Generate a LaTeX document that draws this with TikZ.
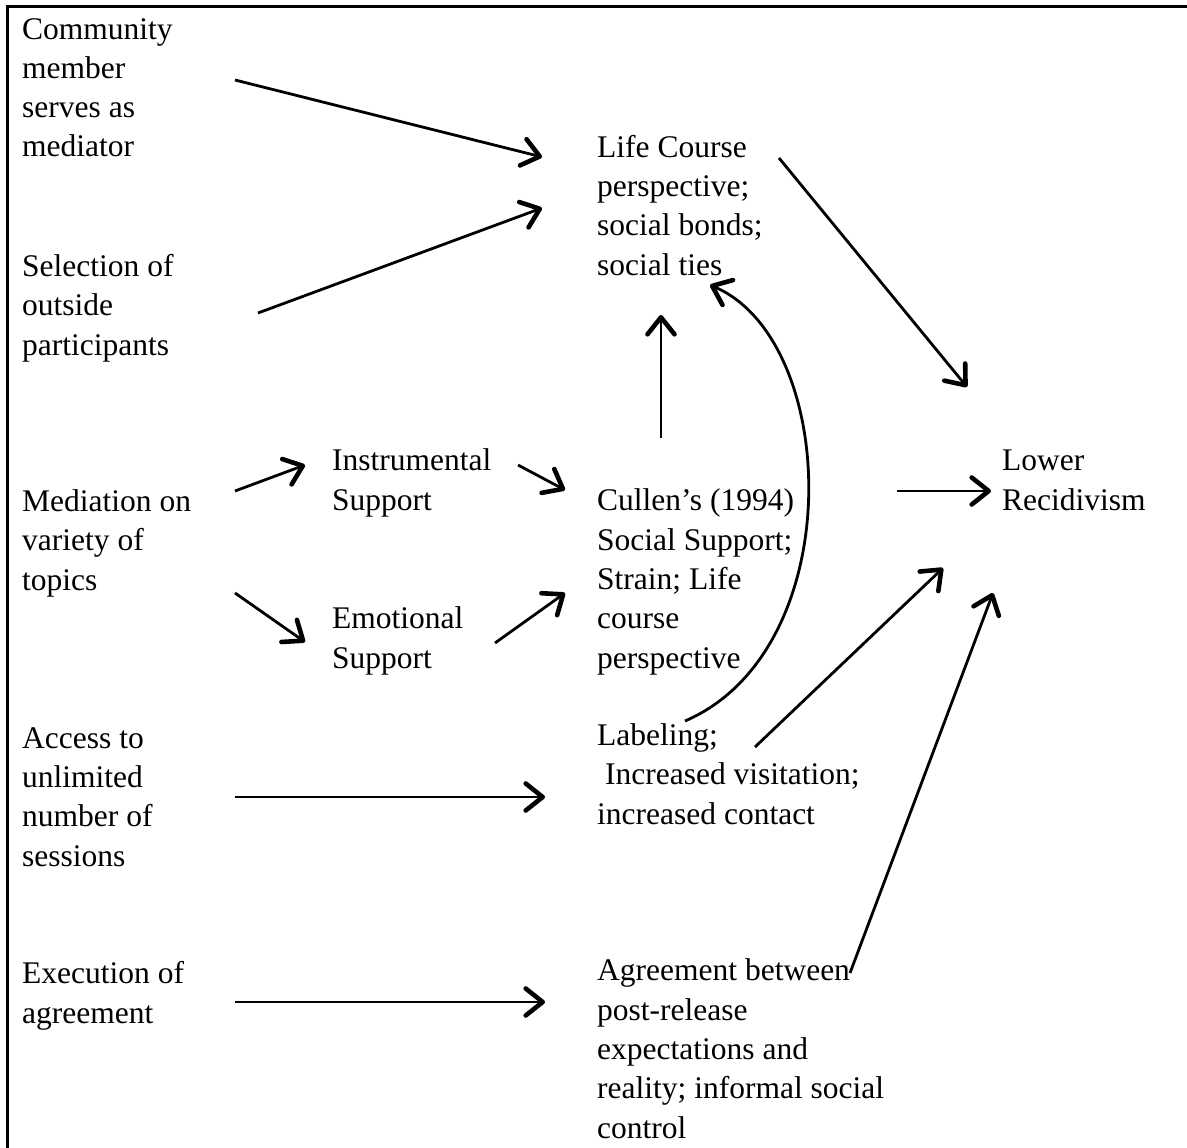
\documentclass[tikz,border=0pt]{standalone}
\usepackage{fontspec}
\setmainfont{Liberation Serif}
\usetikzlibrary{arrows.meta}
\begin{document}
\begin{tikzpicture}[x=1pt,y=-1pt,
  txt/.style={anchor=base west, align=left, inner sep=0pt, font=\fontsize{31.5}{39.3}\selectfont},
  conn/.style={line width=2.8pt, -{Straight Barb[length=17pt,width=27pt,line width=4.6pt,round]}},
  frame/.style={line width=3pt}]
\useasboundingbox (0,0) rectangle (1187,1148);
% frame (top and left edges)
\draw[frame] (7,1148) -- (7,6.5) -- (1187,6.5);
% nodes (placed by the baseline of their last line)
\node[txt] (comm) at (22,157) {Community\\member\\serves as\\mediator};
\node[txt] (sel) at (22,355) {Selection of\\outside\\participants};
\node[txt] (med) at (22,590) {Mediation on\\variety of\\topics};
\node[txt] (acc) at (22,866) {Access to\\unlimited\\number of\\sessions};
\node[txt] (exe) at (22,1023) {Execution of\\agreement};
\node[txt] (instr) at (332,510) {Instrumental\\Support};
\node[txt] (emo) at (332,668) {Emotional\\Support};
\node[txt] (life) at (597,275) {Life Course\\perspective;\\social bonds;\\social ties};
\node[txt] (cullen) at (597,668) {Cullen’s (1994)\\Social Support;\\Strain; Life\\course\\perspective};
\node[txt] (label) at (597,824) {Labeling;\\\ Increased visitation;\\increased contact};
\node[txt] (agree) at (597,1138) {Agreement between\\post-release\\expectations and\\reality; informal social\\control};
\node[txt] (lower) at (1002,510) {Lower\\Recidivism};
% connector end points
\coordinate (c1s) at (235,80);   \coordinate (c1e) at (542,157);
\coordinate (c2s) at (258,313);  \coordinate (c2e) at (542,208);
\coordinate (c3s) at (779,158);  \coordinate (c3e) at (967,387);
\coordinate (c4s) at (661,438);  \coordinate (c4e) at (661,315);
\coordinate (c5s) at (685,721);  \coordinate (c5e) at (710,285);
\coordinate (c6s) at (235,491);  \coordinate (c6e) at (305,465);
\coordinate (c7s) at (235,593);  \coordinate (c7e) at (305,642);
\coordinate (c8s) at (518,465);  \coordinate (c8e) at (565,490);
\coordinate (c9s) at (495,643);  \coordinate (c9e) at (565,593);
\coordinate (c10s) at (897,491); \coordinate (c10e) at (991,491);
\coordinate (c11s) at (755,747); \coordinate (c11e) at (943,568);
\coordinate (c12s) at (850,973); \coordinate (c12e) at (993,593);
\coordinate (c13s) at (235,797); \coordinate (c13e) at (545,797);
\coordinate (c14s) at (235,1002);\coordinate (c14e) at (545,1002);
% connectors
\draw[conn] (c1s) -- (c1e);
\draw[conn] (c2s) -- (c2e);
\draw[conn] (c3s) -- (c3e);
\draw[conn] (c4s) -- (c4e);
\draw[conn] (c5s) .. controls (850,650) and (840,340) .. (c5e);
\draw[conn] (c6s) -- (c6e);
\draw[conn] (c7s) -- (c7e);
\draw[conn] (c8s) -- (c8e);
\draw[conn] (c9s) -- (c9e);
\draw[conn] (c10s) -- (c10e);
\draw[conn] (c11s) -- (c11e);
\draw[conn] (c12s) -- (c12e);
\draw[conn] (c13s) -- (c13e);
\draw[conn] (c14s) -- (c14e);
\end{tikzpicture}
\end{document}
